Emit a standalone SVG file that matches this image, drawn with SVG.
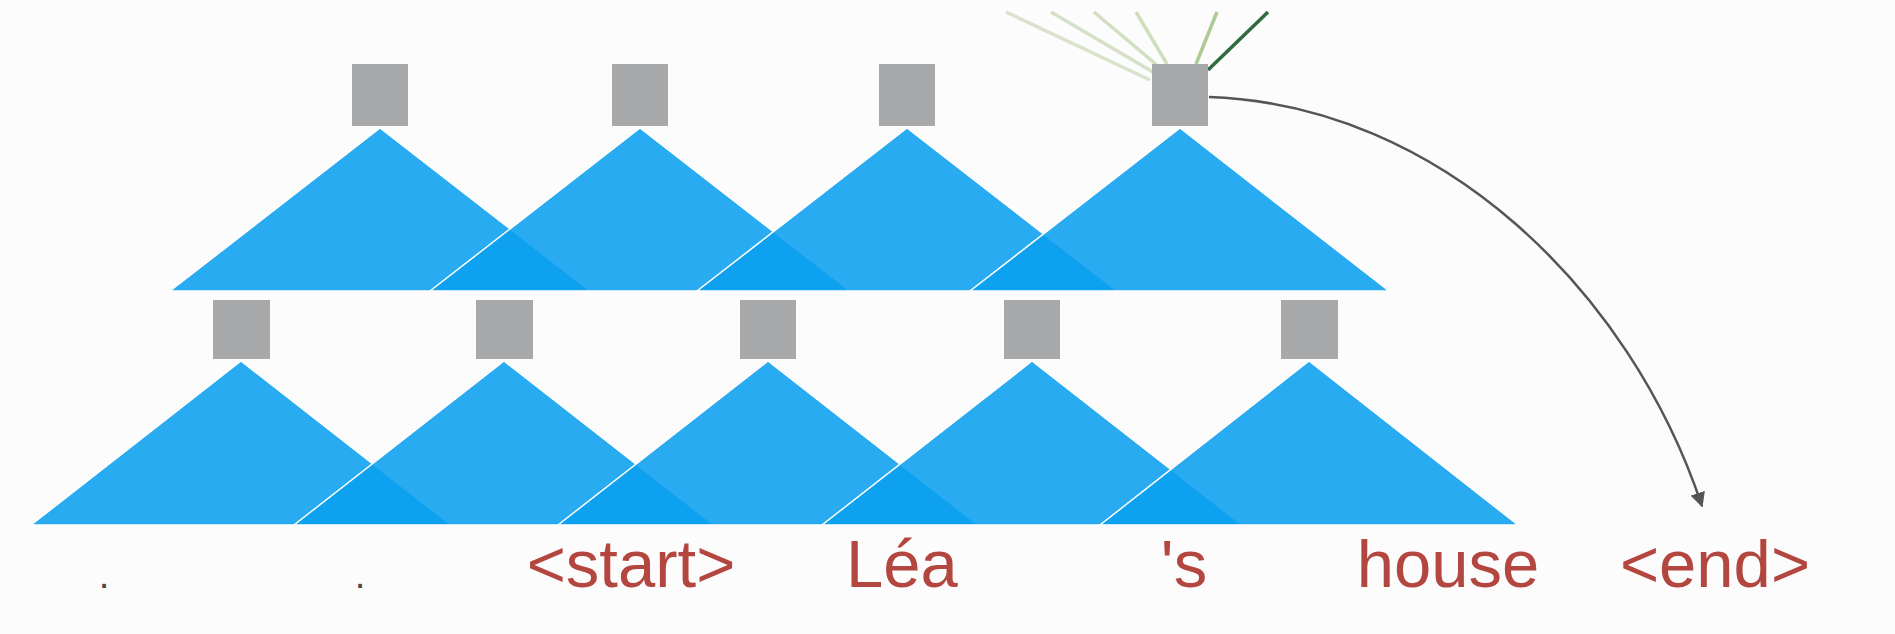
<svg xmlns="http://www.w3.org/2000/svg" width="1895" height="634" viewBox="0 0 1895 634">
<style>
.tri{fill:rgb(10,159,239);fill-opacity:0.874;stroke:#ffffff;stroke-width:1.5;stroke-linejoin:miter}
.sq{fill:#a7a9ab}
.lbl{font-family:"Liberation Sans",Arial,sans-serif;font-size:67px;fill:#b3463f;text-anchor:middle}
.dot{font-family:"Liberation Sans",Arial,sans-serif;font-size:38px;fill:#4a4a4a;text-anchor:middle}
.att{fill:none;stroke-width:3.5;stroke-linecap:butt}
</style>
<defs>
<marker id="ah" viewBox="0 0 10 10" refX="9" refY="5" markerWidth="6" markerHeight="6" orient="auto" markerUnits="strokeWidth">
<path d="M0,0 L10,5 L0,10 z" fill="#555"/>
</marker>
</defs>
<rect width="1895" height="634" fill="#fdfcfd"/>
<g id="connectors">
<line class="att" x1="1006" y1="12" x2="1150" y2="80" stroke="#d8e2cc"/>
<line class="att" x1="1051" y1="12" x2="1153" y2="72" stroke="#d4e1c6"/>
<line class="att" x1="1094" y1="12" x2="1158" y2="66" stroke="#d1dfc1"/>
<line class="att" x1="1136" y1="12" x2="1167" y2="64" stroke="#cfdfbd"/>
<line class="att" x1="1217" y1="12" x2="1196" y2="64" stroke="#adcb95"/>
<line class="att" x1="1268" y1="12" x2="1208" y2="70" stroke="#2f6b3f"/>
<path d="M1209,97 C1440,105 1630,290 1702,506" fill="none" stroke="#555" stroke-width="2.5" marker-end="url(#ah)"/>
</g>
<g id="bottom-row">
<g id="b1"><polygon class="tri" points="241,361 31,525 451,525"/><rect class="sq" x="213" y="300" width="57" height="59"/></g>
<g id="b2"><polygon class="tri" points="504,361 294,525 714,525"/><rect class="sq" x="476" y="300" width="57" height="59"/></g>
<g id="b3"><polygon class="tri" points="768,361 558,525 978,525"/><rect class="sq" x="740" y="300" width="56" height="59"/></g>
<g id="b4"><polygon class="tri" points="1032,361 822,525 1242,525"/><rect class="sq" x="1004" y="300" width="56" height="59"/></g>
<g id="b5"><polygon class="tri" points="1309,361 1100,525 1518,525"/><rect class="sq" x="1281" y="300" width="57" height="59"/></g>
</g>
<g id="top-row">
<g id="t1"><polygon class="tri" points="380,128 170,291 590,291"/><rect class="sq" x="352" y="64" width="56" height="62"/></g>
<g id="t2"><polygon class="tri" points="640,128 430,291 850,291"/><rect class="sq" x="612" y="64" width="56" height="62"/></g>
<g id="t3"><polygon class="tri" points="907,128 697,291 1117,291"/><rect class="sq" x="879" y="64" width="56" height="62"/></g>
<g id="t4"><polygon class="tri" points="1180,128 970,291 1389,291"/><rect class="sq" x="1152" y="64" width="56" height="62"/></g>
</g>
<g id="labels">
<text class="dot" x="104" y="588">.</text>
<text class="dot" x="360" y="588">.</text>
<text class="lbl" x="631" y="587">&lt;start&gt;</text>
<text class="lbl" x="902" y="587">Léa</text>
<text class="lbl" x="1184" y="587">'s</text>
<text class="lbl" x="1448" y="587">house</text>
<text class="lbl" x="1715" y="587">&lt;end&gt;</text>
</g>
</svg>
